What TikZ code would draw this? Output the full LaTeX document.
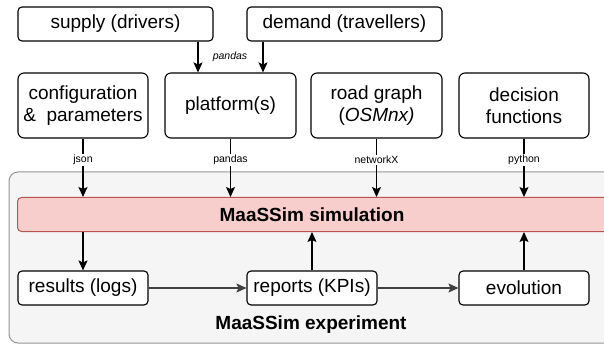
\documentclass[tikz,border=0pt]{standalone}
\usepackage{fontspec}
\setmainfont{Liberation Sans}
\usetikzlibrary{arrows.meta,positioning}
\definecolor{contfill}{HTML}{F5F5F5}
\definecolor{contdraw}{HTML}{666666}
\definecolor{simfill}{HTML}{F8CECC}
\definecolor{simdraw}{HTML}{B85450}
\tikzset{
  box/.style={draw=black, fill=white, rounded corners=6pt, line width=1.1pt, inner sep=0pt, align=center, font=\fontsize{19}{22}\selectfont},
  smallbox/.style={draw=black, fill=white, rounded corners=4pt, line width=1.1pt, inner sep=0pt, align=center, font=\fontsize{19}{22}\selectfont},
  arr/.style={line width=1.2pt, -{Stealth[length=10pt,width=9pt,inset=2pt]}},
  tag/.style={fill=white, inner sep=1pt, font=\fontsize{10.5}{12}\selectfont},
}
\begin{document}
\begin{tikzpicture}[x=1pt,y=-1pt]
\useasboundingbox (0,0) rectangle (604,347);
% container
\draw[fill=contfill, draw=contdraw!70, line width=1pt, rounded corners=9pt] (9,172) rectangle (620,343);
\node[font=\bfseries\fontsize{19}{22}\selectfont] (explabel) at (311,325) {MaaSSim experiment};
% simulation bar
\node[draw=simdraw, fill=simfill, line width=1pt, rounded corners=4pt, minimum width=600pt, minimum height=34pt, anchor=west, inner sep=0pt] (sim) at (17,214.5) {};
\node[font=\bfseries\fontsize{19}{22}\selectfont] (simlabel) at (312,215) {MaaSSim simulation};
% top row
\node[smallbox, minimum width=195pt, minimum height=34pt] (supply) at (115.5,24) {supply (drivers)};
\node[smallbox, minimum width=195pt, minimum height=34pt] (demand) at (344.5,24) {demand (travellers)};
\node[box, minimum width=130pt, minimum height=65pt] (config) at (83,105.5) {configuration\\\&\ \ parameters};
\node[box, minimum width=131pt, minimum height=65pt] (platform) at (230.5,105.5) {platform(s)};
\node[box, minimum width=131pt, minimum height=65pt] (road) at (376.5,105.5) {road graph\\(\textit{OSMnx)}};
\node[box, minimum width=130pt, minimum height=65pt] (decision) at (524,105.5) {decision\\functions};
% bottom row
\node[smallbox, minimum width=130pt, minimum height=34pt] (results) at (83,288) {results (logs)};
\node[smallbox, minimum width=130pt, minimum height=34pt] (reports) at (312,288) {reports (KPIs)};
\node[smallbox, minimum width=130pt, minimum height=34pt] (evolution) at (524,288) {evolution};
% supply / demand -> platform
\coordinate (sx) at (198,0);
\coordinate (dx) at (263,0);
\draw[arr] (supply.south -| sx) -- (platform.north -| sx);
\draw[arr] (demand.south -| dx) -- (platform.north -| dx);
\node[font=\itshape\fontsize{10.5}{12}\selectfont] (pandaslbl) at (230,57) {pandas};
% inputs -> sim
\draw[arr] (config.south) -- node[tag, pos=0.37] {json} (sim.north -| config.south);
\draw[arr] (platform.south) -- node[tag, pos=0.37] {pandas} (sim.north -| platform.south);
\draw[arr] (road.south) -- node[tag, pos=0.37] {networkX} (sim.north -| road.south);
\draw[arr] (decision.south) -- node[tag, pos=0.37] {python} (sim.north -| decision.south);
% sim <-> bottom row
\draw[arr] (sim.south -| results.north) -- (results.north);
\draw[arr] (reports.north) -- (sim.south -| reports.north);
\draw[arr] (evolution.north) -- (sim.south -| evolution.north);
\draw[arr, black!75] (results.east) -- (reports.west);
\draw[arr, black!75] (reports.east) -- (evolution.west);
\end{tikzpicture}
\end{document}
